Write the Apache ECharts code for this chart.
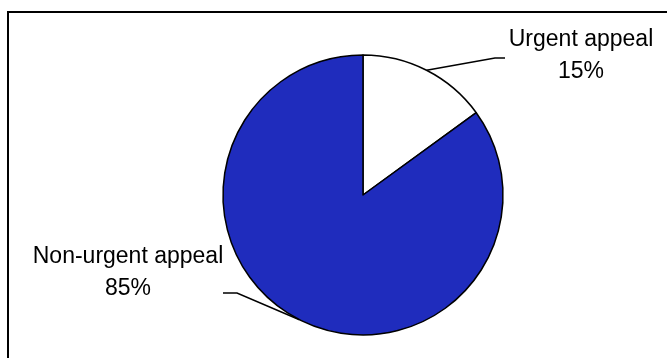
<!DOCTYPE html>
<html>
<head>
<meta charset="utf-8">
<script src="https://cdn.jsdelivr.net/npm/echarts@6/dist/echarts.min.js"></script>
<style>
  html, body { margin: 0; padding: 0; background: #ffffff; }
  #chart { width: 667px; height: 358px; }
</style>
</head>
<body>
<div id="chart"></div>
<script>
// Appeal types and their share of all appeals (percent)
const categories = ['Urgent appeal', 'Non-urgent appeal'];
const shares = [15, 85];
const sliceColors = ['#ffffff', '#1f2cbd'];

const chart = echarts.init(document.getElementById('chart'), null, { renderer: 'canvas' });

// Where each label sits and how its leader line bends toward it
const labelSpots = [
  { x: 581, y: 24, bend: [495, 58], end: [505, 58] },
  { x: 128, y: 241, bend: [237, 293], end: [223, 293] }
];

const FONT = "'Liberation Sans', Arial, sans-serif";

chart.setOption({
  animation: false,
  backgroundColor: '#ffffff',
  graphic: [{
    type: 'rect',
    shape: { x: 8, y: 12, width: 700, height: 400 },
    style: { fill: 'none', stroke: '#000000', lineWidth: 2 },
    silent: true
  }],
  series: [{
    type: 'pie',
    center: [363, 195],
    radius: 140,
    startAngle: 90,
    clockwise: true,
    emphasis: { disabled: true },
    data: categories.map((name, i) => ({
      name: name,
      value: shares[i],
      itemStyle: { color: sliceColors[i] }
    })),
    itemStyle: { borderColor: '#000000', borderWidth: 1.5 },
    label: {
      show: true,
      position: 'outside',
      formatter: '{b}\n{c}%',
      color: '#000000',
      fontFamily: FONT,
      fontSize: 23,
      lineHeight: 32,
      align: 'center'
    },
    labelLine: {
      show: true,
      lineStyle: { color: '#000000', width: 1.5 }
    },
    labelLayout: function (params) {
      const spot = labelSpots[params.dataIndex];
      const start = params.labelLinePoints ? params.labelLinePoints[0] : spot.bend;
      return {
        x: spot.x,
        y: spot.y,
        align: 'center',
        verticalAlign: 'top',
        labelLinePoints: [start, spot.bend, spot.end]
      };
    }
  }]
});
</script>
</body>
</html>
